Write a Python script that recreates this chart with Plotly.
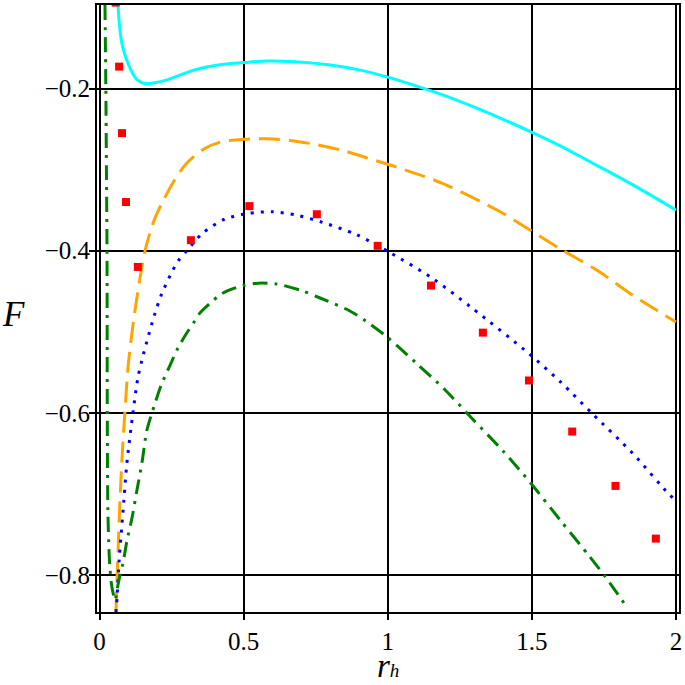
import plotly.graph_objects as go

# ---- data ----
cyan_x = [0.064, 0.07, 0.078, 0.088, 0.1, 0.113, 0.13, 0.158, 0.19, 0.237, 0.33, 0.43, 0.5, 0.58,
          0.68, 0.8, 0.9, 1.0, 1.1, 1.2, 1.3, 1.4, 1.5, 1.6, 1.7, 1.8, 1.9, 2.0]
cyan_y = [-0.097, -0.125, -0.145, -0.158, -0.170, -0.180, -0.189, -0.194, -0.193, -0.189, -0.177,
          -0.170, -0.168, -0.166, -0.167, -0.171, -0.177, -0.186, -0.197, -0.209, -0.223, -0.238,
          -0.254, -0.271, -0.290, -0.309, -0.329, -0.350]

orange_x = [0.057, 0.061, 0.066, 0.071, 0.079, 0.088, 0.1, 0.123, 0.158, 0.19, 0.22, 0.26, 0.3,
            0.36, 0.42, 0.5, 0.58, 0.66, 0.75, 0.85, 0.95, 1.04, 1.19, 1.39, 1.5, 1.6, 1.73, 1.85, 2.0]
orange_y = [-0.846, -0.803, -0.755, -0.708, -0.65, -0.6, -0.54, -0.474, -0.4, -0.362, -0.339,
            -0.313, -0.293, -0.275, -0.266, -0.2625, -0.262, -0.264, -0.269, -0.277, -0.288,
            -0.298, -0.317, -0.352, -0.376, -0.398, -0.425, -0.455, -0.488]

blue_x = [0.057, 0.061, 0.068, 0.081, 0.095, 0.116, 0.133, 0.147, 0.165, 0.19, 0.216, 0.25, 0.272,
          0.303, 0.359, 0.435, 0.515, 0.6, 0.683, 0.773, 0.89, 1.006, 1.155, 1.29, 1.49, 1.6,
          1.71, 1.85, 1.975, 2.0]
blue_y = [-0.846, -0.827, -0.782, -0.724, -0.662, -0.6, -0.557, -0.535, -0.511, -0.48, -0.453,
          -0.427, -0.413, -0.4, -0.378, -0.361, -0.354, -0.352, -0.356, -0.365, -0.38, -0.402,
          -0.434, -0.47, -0.527, -0.562, -0.601, -0.65, -0.7, -0.708]

green_x = [0.019, 0.022, 0.024, 0.026, 0.027, 0.029, 0.033, 0.036, 0.041, 0.047, 0.054,
           0.062, 0.071, 0.081, 0.095, 0.113, 0.13, 0.147, 0.164, 0.182, 0.2, 0.216, 0.245,
           0.272, 0.3, 0.33, 0.348, 0.38, 0.424, 0.497, 0.55, 0.614, 0.7, 0.763, 0.867, 0.925,
           1.0, 1.1, 1.2, 1.29, 1.4, 1.497, 1.6, 1.7, 1.757, 1.83]
green_y = [-0.097, -0.2, -0.3, -0.4, -0.6, -0.72, -0.77, -0.79, -0.81, -0.822, -0.831,
           -0.816, -0.8, -0.786, -0.758, -0.729, -0.695, -0.662, -0.622, -0.6, -0.58, -0.564,
           -0.541, -0.52, -0.503, -0.487, -0.477, -0.466, -0.453, -0.443, -0.44, -0.441, -0.449,
           -0.458, -0.474, -0.487, -0.507, -0.539, -0.572, -0.606, -0.647, -0.687, -0.733,
           -0.777, -0.803, -0.84]

red_x = [0.056, 0.068, 0.078, 0.092, 0.133, 0.317, 0.52, 0.754, 0.965, 1.15, 1.33, 1.49, 1.64,
         1.79, 1.93]
red_y = [-0.094, -0.173, -0.255, -0.34, -0.42, -0.387, -0.345, -0.355, -0.394, -0.443, -0.501,
         -0.56, -0.623, -0.69, -0.755]

x_ticks = [0, 0.5, 1, 1.5, 2]
x_tick_labels = ["0", "0.5", "1", "1.5", "2"]
y_ticks = [-0.8, -0.6, -0.4, -0.2]
y_tick_labels = ["\u22120.8", "\u22120.6", "\u22120.4", "\u22120.2"]

fig = go.Figure()
fig.add_trace(go.Scatter(x=cyan_x, y=cyan_y, mode="lines",
                         line=dict(color="#00ffff", width=3, shape="spline", smoothing=0.8)))
fig.add_trace(go.Scatter(x=orange_x, y=orange_y, mode="lines",
                         line=dict(color="#ffa500", width=3, dash="21px,9px", shape="spline", smoothing=0.8)))
fig.add_trace(go.Scatter(x=blue_x, y=blue_y, mode="lines",
                         line=dict(color="#0000ff", width=3, dash="3px,7px", shape="spline", smoothing=0.8)))
fig.add_trace(go.Scatter(x=green_x, y=green_y, mode="lines",
                         line=dict(color="#008000", width=3, dash="15px,7px,3px,7px", shape="spline", smoothing=0.8)))
fig.add_trace(go.Scatter(x=red_x, y=red_y, mode="markers",
                         marker=dict(color="#ff0000", size=8, symbol="square")))

font_family = "Liberation Serif"
fig.update_layout(
    width=685, height=685,
    margin=dict(l=97, r=5, t=3, b=73),
    paper_bgcolor="white", plot_bgcolor="white",
    showlegend=False,
    font=dict(family=font_family, color="black"),
    xaxis=dict(range=[-0.0087, 2.0104], tickvals=x_ticks, ticktext=x_tick_labels,
               showgrid=True, gridcolor="black", gridwidth=1.5, zeroline=False,
               showline=True, linecolor="black", linewidth=2, mirror=True,
               ticks="outside", ticklen=6, tickcolor="black", tickwidth=1.5,
               ticklabelstandoff=0,
               tickfont=dict(family=font_family, size=25, color="black")),
    yaxis=dict(range=[-0.8455, -0.097], tickvals=y_ticks, ticktext=y_tick_labels,
               showgrid=True, gridcolor="black", gridwidth=1.5, zeroline=False,
               showline=True, linecolor="black", linewidth=2, mirror=True,
               ticks="outside", ticklen=6, tickcolor="black", tickwidth=1.5,
               ticklabelstandoff=-6,
               tickfont=dict(family=font_family, size=25, color="black")),
    annotations=[
        dict(text="<i>F</i>", xref="paper", yref="paper", x=-0.143, y=0.49,
             xanchor="center", yanchor="middle", showarrow=False,
             font=dict(family=font_family, size=35, color="black")),
        dict(text="<i>r</i><span style='font-size:19px'><i>h</i></span>",
             xref="paper", yref="paper", x=0.5, y=-0.1225,
             xanchor="center", yanchor="bottom", showarrow=False,
             font=dict(family=font_family, size=33, color="black")),
    ],
)

fig.write_html("out.html", config={"displayModeBar": False},
               post_script="document.body.style.margin='0';")
